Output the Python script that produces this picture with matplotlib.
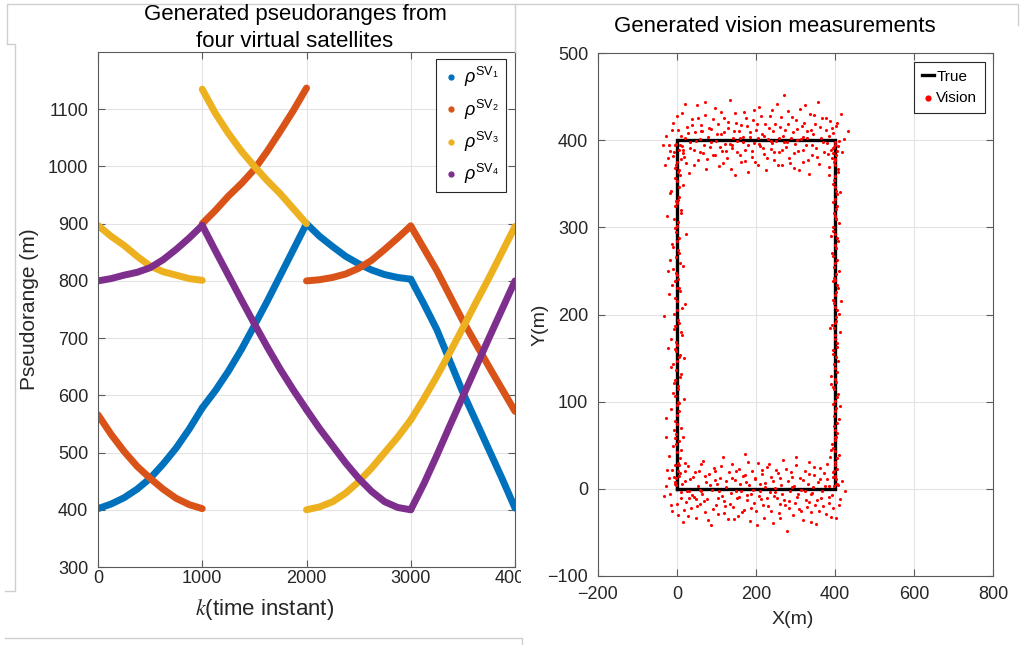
import numpy as np
import matplotlib.pyplot as plt
from matplotlib.lines import Line2D
from matplotlib.patches import Rectangle

plt.rcParams['font.family'] = ['Liberation Sans', 'DejaVu Sans']
plt.rcParams['mathtext.fontset'] = 'custom'
plt.rcParams['mathtext.rm'] = 'Liberation Sans'
plt.rcParams['mathtext.it'] = 'Liberation Sans:italic'

# Pseudorange samples, four legs of 1000 steps each (k repeated at leg joins)
k_steps = [0, 125, 250, 375, 500, 625, 750, 875, 1000,
           1000, 1125, 1250, 1375, 1500, 1625, 1750, 1875, 2000,
           2000, 2125, 2250, 2375, 2500, 2625, 2750, 2875, 3000,
           3000, 3125, 3250, 3375, 3500, 3625, 3750, 3875, 4000]
rho_sv1 = [402, 410, 421, 436, 455, 480, 508, 541, 578,
           578, 608, 642, 680, 722, 765, 810, 855, 900,
           900, 878, 860, 843, 830, 819, 811, 806, 803,
           803, 760, 715, 660, 605, 555, 505, 455, 403]
rho_sv2 = [566, 532, 502, 476, 455, 436, 420, 409, 402,
           900, 923, 948, 970, 995, 1027, 1062, 1098, 1137,
           800, 802, 806, 812, 822, 836, 855, 875, 896,
           896, 857, 818, 774, 730, 690, 650, 611, 572]
rho_sv3 = [897, 878, 862, 843, 826, 816, 810, 804, 801,
           1135, 1093, 1058, 1027, 1000, 975, 952, 926, 900,
           400, 405, 414, 429, 449, 473, 500, 527, 557,
           557, 594, 633, 675, 718, 762, 805, 850, 895]
rho_sv4 = [800, 804, 810, 815, 823, 837, 855, 875, 897,
           897, 853, 810, 767, 725, 684, 645, 609, 575,
           575, 542, 512, 482, 455, 432, 414, 404, 400,
           400, 445, 495, 547, 598, 649, 700, 750, 800]
sv_labels = [r'$\rho^{\mathrm{SV}_1}$', r'$\rho^{\mathrm{SV}_2}$',
             r'$\rho^{\mathrm{SV}_3}$', r'$\rho^{\mathrm{SV}_4}$']
sv_colors = ['#0072BD', '#D95319', '#EDB120', '#7E2F8E']

# True square trajectory
true_x = [0, 400, 400, 0, 0]
true_y = [0, 0, 400, 400, 0]

# Vision fixes along each side of the square
vision_bottom = [
    (-32, -8), (-21, 12), (-12, -25), (-6, 5), (2, -30), (7, 18), (11, -4), (15, -38), (19, 9), (24, -15),
    (27, 26), (31, -2), (36, -22), (40, 14), (43, -9), (47, -33), (52, 3), (55, 21), (58, -17), (63, -6),
    (66, 32), (71, -27), (74, 8), (77, -12), (82, 17), (86, -41), (89, -1), (93, 24), (98, -19), (101, 6),
    (104, -29), (109, 13), (113, -8), (116, 36), (120, -14), (125, 2), (128, -35), (131, 19), (136, -5), (140, 28),
    (143, -21), (147, 10), (151, -11), (155, -31), (158, 23), (162, -3), (167, 15), (170, -24), (173, 40), (178, -7),
    (182, 4), (185, -37), (189, 20), (194, -16), (197, 11), (200, -26), (205, 30), (209, -2), (212, -12), (216, 17),
    (220, -33), (224, 7), (227, 25), (231, -20), (236, -4), (239, 14), (243, -39), (247, 1), (251, 22), (254, -10),
    (258, -28), (262, 12), (266, -6), (269, 33), (273, -18), (278, -48), (281, 9), (284, -14), (289, 19), (293, -30),
    (296, 3), (300, 27), (304, -9), (308, -23), (311, 13), (315, -1), (320, -36), (323, 21), (326, -13), (331, 6),
    (335, 31), (338, -27), (342, -5), (346, 16), (350, -19), (353, -40), (357, 8), (362, 24), (365, -11), (368, -3),
    (373, 18), (377, -29), (380, 11), (384, -16), (388, 37), (392, -7), (395, -22), (399, 15), (403, -33), (408, 4),
    (412, -12), (418, 9), (425, -3), (-25, 22), (-15, -18), (48, -12), (122, -20), (188, -6), (262, -17), (333, -15),
    (60, -3), (95, 10), (150, -2), (210, 5), (245, -8), (290, 2), (340, -6), (385, 3), (30, -10), (175, 8),
    (-28, 3), (-18, -6), (-8, 14), (0, -17), (4, 27), (9, -11), (13, 6), (17, -24), (21, 21), (25, -3),
    (29, -31), (33, 11), (38, -7), (45, 19), (50, -20), (57, -1), (61, 29), (68, -14), (72, 15), (79, -36),
    (84, 4), (91, -23), (96, 20), (103, -10), (107, -2), (112, 26), (118, -28), (123, 9), (133, -17), (138, 13),
    (145, -35), (149, 21), (156, -9), (160, 5), (165, -27), (171, 16), (176, -13), (180, 31), (187, -22), (192, -1),
    (198, 12), (203, -42), (207, -8), (214, 22), (218, -18), (222, 2), (229, -11), (233, 28), (238, -25), (244, 9),
    (249, -4), (256, 18), (260, -34), (264, 4), (271, -13), (275, 23), (283, -22), (287, -3), (292, 14), (298, -16),
    (302, 37), (306, -6), (313, -26), (318, 10), (324, -3), (328, -21), (333, 17), (340, -38), (344, 2), (348, 25),
    (355, -13), (359, -26), (363, 11), (370, -20), (375, 3), (379, 28), (386, -9), (390, -32), (397, 20), (410, -18),
]
vision_top = [
    (-28, 405), (-18, 388), (-9, 420), (-3, 372), (3, 412), (8, 395), (12, 431), (17, 381), (21, 402), (26, 415),
    (30, 362), (34, 398), (39, 424), (42, 389), (46, 409), (51, 440), (54, 377), (58, 401), (62, 417), (67, 385),
    (70, 429), (74, 367), (79, 404), (83, 392), (87, 413), (90, 383), (95, 437), (99, 399), (103, 419), (106, 370),
    (111, 407), (114, 388), (118, 425), (122, 396), (127, 379), (130, 414), (134, 446), (138, 391), (142, 403), (146, 360),
    (150, 420), (153, 386), (157, 410), (161, 375), (166, 398), (169, 432), (173, 389), (177, 416), (181, 364), (184, 404),
    (189, 381), (192, 423), (196, 397), (200, 412), (204, 372), (208, 438), (211, 393), (215, 407), (219, 384), (223, 419),
    (226, 366), (230, 401), (235, 428), (238, 390), (242, 411), (246, 377), (250, 399), (253, 442), (257, 386), (261, 415),
    (265, 371), (269, 405), (272, 452), (276, 392), (280, 418), (284, 380), (288, 403), (291, 427), (295, 368), (299, 396),
    (303, 413), (307, 387), (311, 436), (314, 401), (318, 375), (322, 420), (326, 394), (330, 410), (334, 361), (337, 430),
    (341, 383), (345, 407), (349, 418), (353, 391), (357, 444), (360, 373), (364, 402), (368, 425), (372, 386), (376, 412),
    (380, 397), (384, 369), (388, 422), (391, 389), (395, 408), (399, 378), (403, 416), (408, 393), (414, 430), (423, 401),
    (432, 410), (-35, 395), (60, 410), (140, 395), (205, 402), (270, 398), (320, 404), (395, 385), (160, 402), (240, 397),
    (-22, 380), (-12, 412), (-5, 394), (1, 428), (5, 366), (10, 405), (14, 389), (19, 441), (23, 374), (28, 408),
    (32, 391), (37, 417), (44, 372), (48, 399), (53, 425), (57, 386), (64, 410), (68, 395), (72, 444), (77, 378),
    (81, 414), (85, 398), (92, 424), (97, 383), (101, 407), (108, 392), (112, 432), (116, 374), (120, 409), (125, 388),
    (129, 421), (133, 396), (137, 367), (144, 411), (148, 431), (152, 399), (159, 383), (163, 417), (168, 404), (171, 376),
    (175, 426), (179, 394), (186, 409), (190, 387), (194, 435), (198, 375), (202, 418), (207, 396), (213, 428), (217, 391),
    (221, 405), (228, 379), (232, 414), (237, 399), (241, 435), (245, 386), (249, 419), (255, 372), (259, 403), (263, 427),
    (267, 389), (274, 412), (278, 398), (282, 434), (286, 374), (293, 409), (297, 385), (301, 423), (305, 400), (309, 366),
    (316, 416), (320, 389), (324, 440), (328, 403), (332, 377), (339, 412), (343, 395), (347, 429), (355, 381), (362, 415),
    (370, 398), (378, 426), (382, 384), (386, 405), (393, 414), (397, 392), (401, 377), (406, 420), (410, 399), (418, 386),
]
vision_left = [
    (-4, 8), (6, 15), (-12, 22), (2, 30), (-20, 38), (9, 45), (-3, 52), (14, 60), (-8, 67), (1, 74),
    (-27, 81), (5, 89), (-1, 96), (18, 103), (-10, 110), (3, 118), (-6, 125), (11, 132), (-15, 140), (0, 147),
    (7, 154), (-22, 161), (-2, 169), (13, 176), (-7, 183), (4, 190), (-33, 198), (1, 205), (20, 212), (-5, 219),
    (8, 227), (-13, 234), (2, 241), (-3, 248), (16, 256), (-18, 263), (5, 270), (-9, 277), (0, 284), (24, 292),
    (-6, 299), (3, 306), (-25, 313), (10, 320), (-1, 328), (6, 335), (-14, 342), (15, 349), (-4, 357), (2, 364),
    (-30, 371), (9, 378), (-8, 386), (12, 393), (-2, 12), (-5, 58), (3, 100), (-4, 160), (1, 230), (-3, 330),
    (-2, 4), (3, 20), (-6, 27), (8, 35), (-1, 42), (-9, 49), (4, 55), (-3, 63), (10, 70), (-5, 78),
    (0, 85), (-14, 92), (6, 99), (-4, 106), (2, 114), (-8, 121), (7, 128), (-2, 136), (-11, 143), (5, 151),
    (-3, 158), (1, 165), (-16, 172), (9, 180), (-4, 187), (2, 194), (-7, 201), (12, 208), (-1, 216), (-19, 223),
    (4, 230), (-5, 238), (1, 245), (-10, 252), (7, 259), (-2, 266), (3, 274), (-12, 281), (6, 288), (-3, 295),
    (0, 302), (-8, 310), (11, 317), (-4, 324), (2, 331), (-17, 339), (5, 346), (-1, 353), (8, 360), (-6, 368),
    (1, 375), (-11, 382), (4, 389), (-3, 396), (-21, 395), (14, 385), (-24, 250), (17, 150), (-28, 60), (19, 30),
]
vision_right = [
    (402, 6), (396, 14), (405, 23), (399, 31), (409, 39), (394, 47), (401, 56), (404, 64), (397, 72), (410, 80),
    (400, 89), (395, 97), (406, 105), (398, 114), (403, 122), (391, 130), (401, 139), (407, 147), (396, 155), (404, 163),
    (399, 172), (412, 180), (393, 188), (402, 197), (405, 205), (397, 213), (400, 222), (408, 230), (395, 238), (403, 246),
    (398, 255), (406, 263), (392, 271), (401, 280), (404, 288), (396, 296), (410, 305), (399, 313), (402, 321), (394, 329),
    (405, 338), (400, 346), (397, 354), (407, 363), (401, 371), (393, 379), (404, 387), (399, 395), (411, 250), (389, 120),
    (398, 3), (403, 11), (396, 19), (401, 27), (405, 35), (399, 43), (392, 51), (403, 59), (400, 68), (406, 76),
    (397, 84), (402, 93), (399, 101), (408, 109), (394, 117), (401, 126), (404, 134), (398, 143), (402, 151), (395, 159),
    (406, 167), (400, 176), (397, 184), (403, 192), (409, 201), (399, 209), (394, 217), (402, 226), (405, 234), (398, 242),
    (401, 259), (396, 267), (403, 276), (407, 284), (400, 292), (395, 300), (402, 309), (398, 317), (405, 325), (399, 333),
    (403, 342), (396, 350), (401, 359), (408, 367), (398, 375), (402, 383), (395, 391), (400, 398), (404, 5), (390, 45),
    (413, 95), (388, 185), (414, 215), (391, 290), (412, 340), (386, 360), (401, 190), (399, 60), (402, 310), (400, 240),
]

W, H = 1034, 645
fig = plt.figure(figsize=(W / 100, H / 100), dpi=100)


def fig_xy(x, y):
    return x / W, 1 - y / H


def matlab_style(ax):
    ax.grid(True, color='#e3e3e3', linewidth=0.8)
    ax.set_axisbelow(True)
    for s in ax.spines.values():
        s.set_color('#5a5a5a')
        s.set_linewidth(0.8)
    ax.tick_params(direction='in', length=5, width=0.8, color='#5a5a5a',
                   top=True, right=True, labelsize=13, labelcolor='#262626')


# ---- pseudoranges ----
ax1 = fig.add_axes([98 / W, 1 - 567 / H, (515 - 98) / W, (567 - 52) / H])
ax1.set_zorder(0)
k = np.array(k_steps)
for vals, c in zip([rho_sv1, rho_sv2, rho_sv3, rho_sv4], sv_colors):
    vals = np.array(vals)
    for s in range(0, len(k), 9):
        ax1.plot(k[s:s + 9], vals[s:s + 9], color=c, lw=5,
                 solid_capstyle='round', solid_joinstyle='round')
ax1.set_xlim(0, 4000)
ax1.set_ylim(300, 1200)
ax1.set_xticks([0, 1000, 2000, 3000, 4000])
ax1.set_yticks(np.arange(300, 1101, 100))
matlab_style(ax1)
ax1.tick_params(axis='x', pad=2)
ax1.tick_params(axis='y', pad=7)
ax1.set_ylabel('Pseudorange (m)', fontsize=15, color='#262626')
ax1.yaxis.set_label_coords((30 - 98) / 417, 0.5)
ax1.yaxis.label.set_va('center')
ax1.set_xlabel(r'$k$(time instant)', fontsize=16, color='#262626',
               math_fontfamily='stix')
ax1.xaxis.set_label_coords((265 - 98) / 417, (567 - 610) / 515)
ax1.xaxis.label.set_va('center')
handles = [Line2D([], [], ls='none', marker='o', ms=3.5, color=c) for c in sv_colors]
leg1 = ax1.legend(handles, sv_labels, loc='upper right',
                  bbox_to_anchor=((506 - 98) / 417, (567 - 59) / 515),
                  borderaxespad=0, fontsize=13, handlelength=0.9,
                  handletextpad=0.3, labelspacing=0.45, borderpad=0.35,
                  fancybox=False, framealpha=1, edgecolor='#262626')
leg1.get_frame().set_linewidth(0.8)

fig.text(*fig_xy(295, 20), 'Generated pseudoranges from', ha='center',
         va='baseline', fontsize=16)
fig.text(*fig_xy(295, 47), 'four virtual satellites', ha='center',
         va='baseline', fontsize=16)

# blank strip between the two panels
fig.add_artist(Rectangle((521 / W, 0), 1, 1, transform=fig.transFigure,
                         facecolor='white', edgecolor='none', zorder=0.5))

# ---- vision measurements ----
ax2 = fig.add_axes([598 / W, 1 - 576 / H, (993 - 598) / W, (576 - 53) / H])
ax2.set_zorder(1)
ax2.plot(true_x, true_y, color='black', lw=2.4, label='True',
         solid_joinstyle='miter')
vis = np.array(vision_bottom + vision_top + vision_left + vision_right)
ax2.scatter(vis[:, 0], vis[:, 1], s=5, color='red', linewidths=0,
            label='Vision', zorder=3)
ax2.set_xlim(-200, 800)
ax2.set_ylim(-100, 500)
ax2.set_xticks(np.arange(-200, 801, 200))
ax2.set_yticks(np.arange(-100, 501, 100))
matlab_style(ax2)
ax2.tick_params(axis='x', pad=7)
ax2.tick_params(axis='y', pad=7)
ax2.set_xlabel('X(m)', fontsize=14, color='#262626')
ax2.xaxis.set_label_coords(0.494, (576 - 619) / 523)
ax2.xaxis.label.set_va('center')
ax2.set_ylabel('Y(m)', fontsize=14, color='#262626')
ax2.yaxis.set_label_coords((540 - 598) / 395, (576 - 325) / 523)
ax2.yaxis.label.set_va('center')
leg2 = ax2.legend(loc='upper right',
                  bbox_to_anchor=((985 - 598) / 395, (576 - 62) / 523),
                  borderaxespad=0, fontsize=11, handlelength=0.8,
                  handletextpad=0.15, borderpad=0.5, labelspacing=0.5,
                  markerscale=2.0, fancybox=False, framealpha=1,
                  edgecolor='#262626')
leg2.get_frame().set_linewidth(0.8)
fig.text(*fig_xy(775, 32), 'Generated vision measurements', ha='center',
         va='baseline', fontsize=16)

# thin grey panel borders
borders = [
    [(7, 44), (7, 4), (1018, 4), (1018, 25)],
    [(7, 44), (15, 44), (15, 591), (5, 591)],
    [(515, 4), (515, 52)],
    [(5, 638), (522, 638), (522, 645)],
]
for pts in borders:
    xs, ys = zip(*[fig_xy(x, y) for x, y in pts])
    fig.add_artist(Line2D(xs, ys, transform=fig.transFigure,
                          color='#cfcfcf', lw=1, zorder=3))

fig.savefig('out.png', dpi=100)
